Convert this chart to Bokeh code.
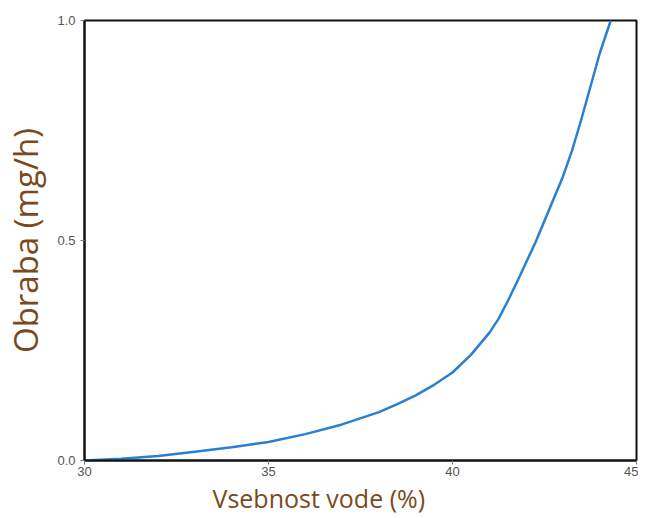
from bokeh.plotting import figure
from bokeh.embed import file_html
from bokeh.resources import INLINE
from bokeh.models import Range1d, FixedTicker, PrintfTickFormatter, Title

water = [30, 31, 32, 33, 34, 35, 36, 37, 38, 38.5, 39, 39.5, 40, 40.5, 41, 41.25, 41.5, 41.75,
         42, 42.25, 42.5, 42.75, 43, 43.25, 43.5, 43.75, 44, 44.3]
wear = [0.0, 0.004, 0.01, 0.02, 0.03, 0.042, 0.06, 0.082, 0.11, 0.128, 0.148, 0.172, 0.2, 0.24, 0.29, 0.322, 0.362, 0.405,
        0.45, 0.495, 0.545, 0.595, 0.645, 0.705, 0.775, 0.85, 0.925, 1.0]
x_ticks = [30, 35, 40, 45]
y_ticks = [0.0, 0.5, 1.0]
x_label = "Vsebnost vode (%)"
y_label = "Obraba (mg/h)"

p = figure(width=638, height=514, output_backend="svg", toolbar_location=None,
           x_range=Range1d(30, 45), y_range=Range1d(0, 1.0),
           min_border_left=80, min_border_right=2, min_border_top=20, min_border_bottom=51)
p.background_fill_color = "white"
p.border_fill_color = "white"
p.outline_line_color = "#111111"
p.outline_line_width = 2
p.xgrid.visible = False
p.ygrid.visible = False

p.line(water, wear, line_color="#2a7fd0", line_width=2.5, line_join="round")

label_color = "#7a4a1e"
for ax in (p.xaxis[0], p.yaxis[0]):
    ax.axis_line_color = "#111111"
    ax.axis_line_width = 2
    ax.major_tick_line_color = "#777777"
    ax.major_tick_out = 4
    ax.major_tick_in = 0
    ax.minor_tick_line_color = None
    ax.major_label_text_font = "Liberation Sans"
    ax.major_label_text_font_size = "13px"
    ax.major_label_text_color = "#555555"
    ax.axis_label_text_font = "Open Sans"
    ax.axis_label_text_font_style = "normal"
    ax.axis_label_text_color = label_color

p.xaxis[0].ticker = FixedTicker(ticks=x_ticks)
p.yaxis[0].ticker = FixedTicker(ticks=y_ticks)
p.yaxis[0].formatter = PrintfTickFormatter(format="%.1f")
p.yaxis[0].axis_label = y_label
p.yaxis[0].axis_label_text_font_size = "33px"
p.xaxis[0].major_label_standoff = 2
p.yaxis[0].major_label_standoff = 5
p.yaxis[0].axis_label_standoff = 6

p.add_layout(Title(text=x_label, align="left", offset=128, text_font="Open Sans",
                   text_font_size="25px", text_font_style="normal", text_color=label_color,
                   text_line_height=0.85, standoff=0), "below")

open("out.html", "w").write(file_html(p, INLINE))
